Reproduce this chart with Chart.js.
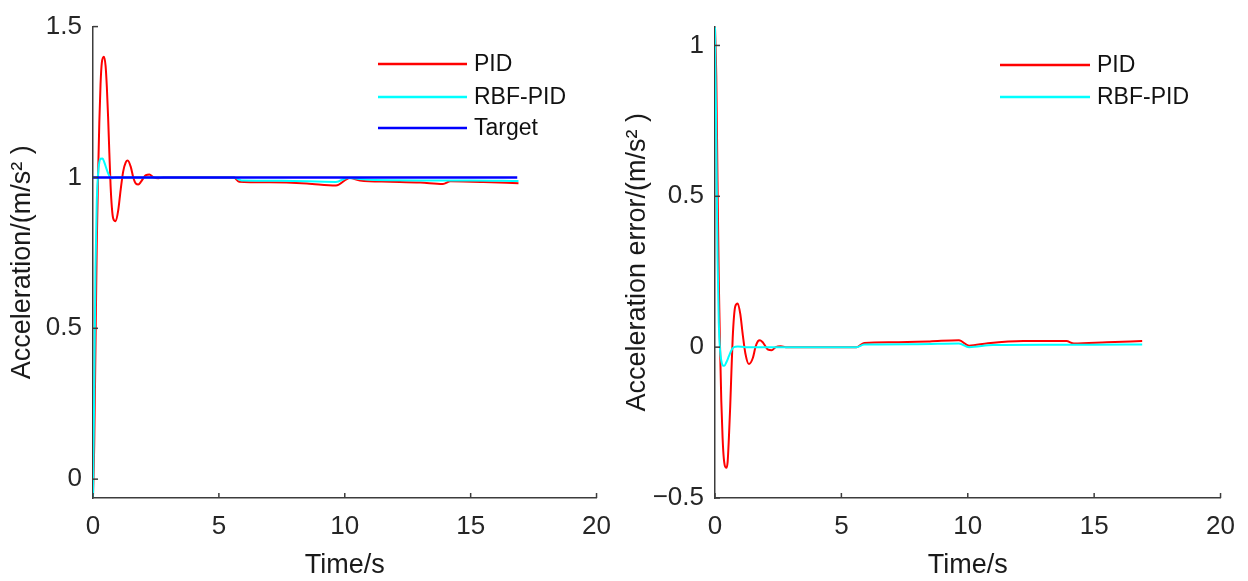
<!DOCTYPE html>
<html>
<head>
<meta charset="utf-8">
<script src="https://cdn.jsdelivr.net/npm/chart.js"></script>
<style>
body{margin:0;background:#fff;}
#wrap{position:relative;width:1248px;height:581px;}
canvas{position:absolute;top:0;}
</style>
</head>
<body>
<div id="wrap">
<canvas id="accChart" width="624" height="581" style="left:0"></canvas>
<canvas id="errChart" width="624" height="581" style="left:624px"></canvas>
</div>
<script>

// Acceleration plot (left)
const pidTime=[0,0.05,0.1,0.15,0.2,0.25,0.3,0.35,0.43,0.5,0.55,0.6,0.65,0.7,0.75,0.8,0.9,1.0,1.1,1.2,1.3,1.38,1.5,1.6,1.7,1.8,1.9,2.0,2.1,2.24,2.4,2.6,2.8,4.0,5.6,5.8,7.0,8.5,9.65,10.2,10.6,11.8,13.0,13.9,14.2,15.5,16.9];
const pidAccel=[-0.06,0.12,0.45,0.78,1.0,1.18,1.31,1.38,1.40,1.37,1.30,1.20,1.08,0.97,0.90,0.865,0.855,0.89,0.96,1.02,1.05,1.056,1.035,1.0,0.98,0.977,0.985,0.998,1.008,1.01,1.0,0.997,1.0,1.0,1.0,0.986,0.984,0.98,0.973,0.998,0.99,0.986,0.983,0.978,0.987,0.985,0.981];

const rbfTime=[0,0.05,0.1,0.15,0.2,0.25,0.3,0.38,0.45,0.55,0.65,0.75,0.9,1.2,5.6,5.9,7.5,9.65,10.1,11.0,13.0,15.0,16.9];
const rbfAccel=[-0.06,0.3,0.7,0.92,1.01,1.05,1.062,1.063,1.05,1.025,1.005,0.997,1.0,1.0,1.0,0.99,0.989,0.985,0.998,0.992,0.99,0.99,0.988];

const targetTime=[0,16.85];
const targetAccel=[1,1];

// Acceleration error plot (right)
const pidErrTime=[0,0.05,0.1,0.15,0.2,0.25,0.3,0.35,0.45,0.5,0.55,0.6,0.65,0.7,0.75,0.8,0.9,1.0,1.1,1.2,1.34,1.5,1.6,1.7,1.78,1.9,2.0,2.1,2.24,2.4,2.6,2.8,4.0,5.6,5.9,7.0,8.5,9.65,10.05,10.8,12.2,13.9,14.2,15.5,16.9];
const pidErr=[1.06,0.9,0.55,0.22,0.0,-0.18,-0.3,-0.37,-0.40,-0.38,-0.3,-0.2,-0.08,0.03,0.1,0.135,0.145,0.11,0.04,-0.02,-0.056,-0.035,0.0,0.02,0.023,0.015,0.002,-0.008,-0.01,0.0,0.003,0.0,0.0,0.0,0.014,0.016,0.019,0.023,0.005,0.013,0.02,0.02,0.012,0.016,0.02];

const rbfErrTime=[0,0.05,0.1,0.15,0.2,0.25,0.3,0.37,0.45,0.55,0.65,0.75,0.9,1.2,5.6,5.9,8.0,9.65,10.05,11.0,13.0,15.0,16.9];
const rbfErr=[1.06,0.7,0.3,0.08,-0.01,-0.045,-0.06,-0.062,-0.05,-0.03,-0.01,0.0,0.002,0.0,0.0,0.009,0.01,0.012,0.0,0.007,0.008,0.008,0.009];

const timeTicks=[0,5,10,15,20];
const accTicks=[0,0.5,1,1.5];
const errTicks=[-0.5,0,0.5,1];

const FONT="'Liberation Sans', Arial, sans-serif";

function pts(t,v){
return t.map((x,i)=>({x:x,y:v[i]}));
}

function fmt(v){
return v<0 ? "\u2212"+Math.abs(v) : String(v);
}

// ticks that point into the plot, like the original
const innerTicks={
id:"innerTicks",
afterDraw(chart){
const ctx=chart.ctx, a=chart.chartArea;
const xs=chart.scales.x, ys=chart.scales.y;
ctx.save();
ctx.strokeStyle="#3c3c3c";
ctx.lineWidth=1.5;
xs.ticks.forEach(t=>{
let px=xs.getPixelForValue(t.value);
ctx.beginPath();ctx.moveTo(px,a.bottom);ctx.lineTo(px,a.bottom-5);ctx.stroke();
});
ys.ticks.forEach(t=>{
let py=ys.getPixelForValue(t.value);
ctx.beginPath();ctx.moveTo(a.left,py);ctx.lineTo(a.left+5,py);ctx.stroke();
});
ctx.restore();
}
};

// legend drawn inside the axes, line sample then label
const boxLegend={
id:"boxLegend",
afterDraw(chart,args,opts){
const ctx=chart.ctx;
ctx.save();
ctx.font="23px "+FONT;
ctx.textBaseline="middle";
chart.data.datasets.forEach((ds,i)=>{
let y=opts.rows[i];
ctx.strokeStyle=ds.borderColor;
ctx.lineWidth=2.5;
ctx.beginPath();ctx.moveTo(opts.x1,y);ctx.lineTo(opts.x2,y);ctx.stroke();
ctx.fillStyle="#111";
ctx.fillText(ds.label,opts.tx,y+1);
});
ctx.restore();
}
};

function makeChart(id,datasets,yMin,yMax,yTicks,yTitle,yWidth,padRight,yTitlePad,legendOpts){
return new Chart(document.getElementById(id),{
type:"line",
data:{datasets:datasets},
options:{
responsive:false,
animation:false,
events:[],
layout:{padding:{top:23,right:padRight,bottom:0,left:0}},
elements:{point:{radius:0},line:{cubicInterpolationMode:"monotone",borderWidth:2}},
plugins:{legend:{display:false},tooltip:{enabled:false},boxLegend:legendOpts},
scales:{
x:{
type:"linear",min:0,max:20,
afterBuildTicks:s=>{s.ticks=timeTicks.map(v=>({value:v}));},
afterFit:s=>{s.height=83;},
grid:{display:false,drawTicks:false},
border:{display:true,color:"#3c3c3c",width:1.5},
ticks:{padding:13,color:"#262626",font:{family:FONT,size:26}},
title:{display:true,text:"Time/s",color:"#1a1a1a",padding:{top:0,bottom:2},font:{family:FONT,size:27,lineHeight:1}}
},
y:{
type:"linear",min:yMin,max:yMax,
afterBuildTicks:s=>{s.ticks=yTicks.map(v=>({value:v}));},
afterFit:s=>{s.width=yWidth;},
grid:{display:false,drawTicks:false},
border:{display:true,color:"#3c3c3c",width:1.5},
ticks:{padding:11,color:"#262626",font:{family:FONT,size:26},callback:v=>fmt(v)},
title:{display:true,text:yTitle,color:"#1a1a1a",padding:{top:yTitlePad,bottom:0},font:{family:FONT,size:27,lineHeight:1}}
}
}
},
plugins:[innerTicks,boxLegend]
});
}

makeChart("accChart",[
{label:"PID",data:pts(pidTime,pidAccel),borderColor:"#ff0000",order:3},
{label:"RBF-PID",data:pts(rbfTime,rbfAccel),borderColor:"#00ffff",order:2},
{label:"Target",data:pts(targetTime,targetAccel),borderColor:"#0000ff",borderWidth:2.5,order:1}
],-0.0625,1.5,accTicks,"Acceleration/(m/s\u00b2 )",93,23,9,{x1:378,x2:467,tx:474,rows:[64,97,128]});

makeChart("errChart",[
{label:"PID",data:pts(pidErrTime,pidErr),borderColor:"#ff0000",order:2},
{label:"RBF-PID",data:pts(rbfErrTime,rbfErr),borderColor:"#00ffff",order:1}
],-0.5,1.0625,errTicks,"Acceleration error/(m/s\u00b2 )",91,25,0,{x1:376,x2:466,tx:473,rows:[65,97]});

</script>
</body>
</html>
